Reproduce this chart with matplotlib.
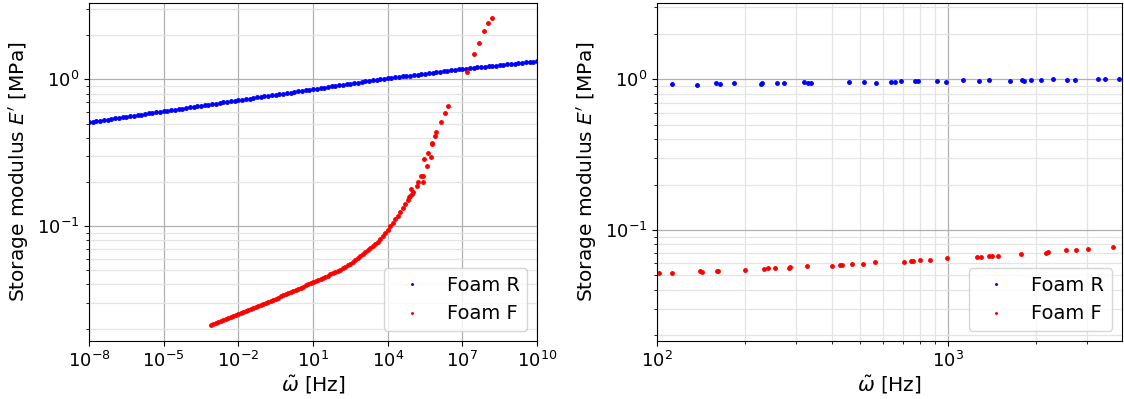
import matplotlib
matplotlib.use('Agg')
import matplotlib.pyplot as plt
from matplotlib.ticker import NullLocator, NullFormatter
import numpy as np

# ---- left panel: master curves, log10 of reduced frequency ----
foamR_logw = [-8.00, -7.85, -7.70, -7.55, -7.40, -7.25, -7.10, -6.95, -6.80, -6.65,
              -6.50, -6.35, -6.20, -6.05, -5.90, -5.75, -5.60, -5.45, -5.30, -5.15,
              -5.00, -4.85, -4.70, -4.55, -4.40, -4.25, -4.10, -3.95, -3.80, -3.65,
              -3.50, -3.35, -3.20, -3.05, -2.90, -2.75, -2.60, -2.45, -2.30, -2.15,
              -2.00, -1.85, -1.70, -1.55, -1.40, -1.25, -1.10, -0.95, -0.80, -0.65,
              -0.50, -0.35, -0.20, -0.05, 0.10, 0.25, 0.40, 0.55, 0.70, 0.85,
              1.00, 1.15, 1.30, 1.45, 1.60, 1.75, 1.90, 2.05, 2.20, 2.35,
              2.50, 2.65, 2.80, 2.95, 3.10, 3.25, 3.40, 3.55, 3.70, 3.85,
              4.00, 4.15, 4.30, 4.45, 4.60, 4.75, 4.90, 5.05, 5.20, 5.35,
              5.50, 5.65, 5.80, 5.95, 6.10, 6.25, 6.40, 6.55, 6.70, 6.85,
              7.00, 7.15, 7.30, 7.45, 7.60, 7.75, 7.90, 8.05, 8.20, 8.35,
              8.50, 8.65, 8.80, 8.95, 9.10, 9.25, 9.40, 9.55, 9.70, 9.85, 10.00]
foamR_E = [0.5098, 0.5142, 0.5187, 0.5232, 0.5278, 0.5324, 0.5370, 0.5417, 0.5464, 0.5512,
           0.5560, 0.5608, 0.5657, 0.5706, 0.5756, 0.5806, 0.5857, 0.5908, 0.5959, 0.6011,
           0.6063, 0.6116, 0.6169, 0.6223, 0.6277, 0.6332, 0.6387, 0.6443, 0.6499, 0.6555,
           0.6612, 0.6670, 0.6728, 0.6787, 0.6846, 0.6905, 0.6966, 0.7026, 0.7087, 0.7149,
           0.7211, 0.7274, 0.7337, 0.7401, 0.7466, 0.7531, 0.7596, 0.7662, 0.7729, 0.7796,
           0.7864, 0.7933, 0.8002, 0.8071, 0.8142, 0.8213, 0.8284, 0.8356, 0.8429, 0.8502,
           0.8576, 0.8651, 0.8726, 0.8802, 0.8879, 0.8956, 0.9034, 0.9113, 0.9192, 0.9272,
           0.9353, 0.9434, 0.9516, 0.9599, 0.9683, 0.9767, 0.9852, 0.9938, 1.0018, 1.0092,
           1.0167, 1.0242, 1.0318, 1.0395, 1.0472, 1.0550, 1.0628, 1.0707, 1.0786, 1.0866,
           1.0947, 1.1028, 1.1110, 1.1192, 1.1275, 1.1359, 1.1443, 1.1528, 1.1613, 1.1699,
           1.1786, 1.1857, 1.1929, 1.2001, 1.2074, 1.2147, 1.2221, 1.2295, 1.2369, 1.2444,
           1.2520, 1.2596, 1.2672, 1.2749, 1.2826, 1.2904, 1.2982, 1.3061, 1.3140, 1.3220, 1.3300]

foamF_logw = [-3.10, -3.00, -2.90, -2.80, -2.70, -2.60, -2.50, -2.40, -2.30, -2.20,
              -2.10, -2.00, -1.90, -1.80, -1.70, -1.60, -1.50, -1.40, -1.30, -1.20,
              -1.10, -1.00, -0.90, -0.80, -0.70, -0.60, -0.50, -0.40, -0.30, -0.20,
              -0.10, 0.00, 0.10, 0.20, 0.30, 0.40, 0.50, 0.60, 0.70, 0.80,
              0.90, 1.00, 1.10, 1.20, 1.30, 1.40, 1.50, 1.60, 1.70, 1.80,
              1.90, 2.00, 2.10, 2.20, 2.30, 2.40, 2.50, 2.60, 2.70, 2.80,
              2.90, 3.00, 3.10, 3.20, 3.30, 3.40, 3.50, 3.60, 3.70, 3.80,
              3.90, 4.00, 4.10, 4.20, 4.30, 4.40, 4.50, 4.60, 4.70, 4.80,
              4.85, 4.90, 4.96, 5.03, 4.92, 5.16, 5.23, 5.40, 5.34, 5.43,
              5.59, 5.47, 5.72, 5.60, 5.76, 5.79, 5.92, 5.94, 6.16, 6.30,
              6.43, 7.19, 7.48, 7.66, 7.87, 8.03, 8.20]
foamF_E = [0.02123, 0.02158, 0.02188, 0.02223, 0.02254, 0.02291, 0.02323, 0.02360, 0.02393, 0.02432,
           0.02466, 0.02506, 0.02547, 0.02588, 0.02630, 0.02667, 0.02710, 0.02754, 0.02799, 0.02844,
           0.02884, 0.02931, 0.02982, 0.03034, 0.03087, 0.03141, 0.03196, 0.03251, 0.03308, 0.03365,
           0.03424, 0.03483, 0.03544, 0.03606, 0.03669, 0.03733, 0.03798, 0.03864, 0.03932, 0.03999,
           0.04069, 0.04140, 0.04212, 0.04285, 0.04360, 0.04436, 0.04514, 0.04592, 0.04672, 0.04753,
           0.04836, 0.04920, 0.05035, 0.05152, 0.05272, 0.05395, 0.05521, 0.05694, 0.05875, 0.06061,
           0.06252, 0.06449, 0.06653, 0.06871, 0.07096, 0.07328, 0.07568, 0.07816, 0.08185, 0.08570,
           0.08974, 0.09397, 0.09931, 0.1050, 0.1109, 0.1172, 0.1247, 0.1327, 0.1413, 0.1503,
           0.157, 0.161, 0.166, 0.170, 0.180, 0.189, 0.199, 0.199, 0.218, 0.221,
           0.256, 0.287, 0.295, 0.316, 0.364, 0.370, 0.414, 0.436, 0.510, 0.587,
           0.662, 1.116, 1.489, 1.778, 2.130, 2.420, 2.640]

# ---- right panel: measured data ----
R_freq = [112.3, 137.5, 159.5, 164.7, 184.4, 227.2, 229.5, 258.4, 273.8, 320.0,
          329.5, 339.0, 456.8, 515.8, 565.8, 638.6, 657.6, 691.1, 772.0, 786.8,
          916.7, 986.7, 1126, 1281, 1387, 1629, 1800, 1829, 1924, 2083,
          2290, 2570, 2738, 3278, 3464, 3861]
R_E = [0.929, 0.920, 0.944, 0.929, 0.944, 0.929, 0.938, 0.944, 0.944, 0.958,
       0.944, 0.944, 0.963, 0.958, 0.944, 0.953, 0.953, 0.967, 0.967, 0.967,
       0.967, 0.953, 0.982, 0.967, 0.982, 0.967, 0.982, 0.967, 0.982, 0.982,
       0.997, 0.982, 0.982, 0.997, 0.997, 0.997]

F_freq = [101.8, 112.6, 140.5, 142.4, 160.4, 162.4, 200.6, 233.8, 240.2, 253.8,
          284.1, 286.4, 327.7, 399.4, 425.6, 431.3, 466.9, 509.3, 562.6, 706.2,
          744.6, 760.1, 801.5, 867.3, 994.5, 1261, 1301, 1380, 1416, 1489,
          1778, 2172, 2212, 2544, 2747, 3028, 3698]
F_E = [0.0513, 0.0513, 0.0529, 0.0524, 0.0529, 0.0535, 0.0542, 0.0551, 0.0556, 0.0556,
       0.0562, 0.0565, 0.0574, 0.0579, 0.0588, 0.0588, 0.0597, 0.0597, 0.0607, 0.0613,
       0.0619, 0.0619, 0.0628, 0.0628, 0.0648, 0.0658, 0.0664, 0.0675, 0.0675, 0.0675,
       0.0692, 0.0703, 0.0710, 0.0732, 0.0732, 0.0742, 0.0766]

xticks_left = [1e-8, 1e-5, 1e-2, 1e1, 1e4, 1e7, 1e10]

fig = plt.figure(figsize=(11.24, 3.99), dpi=100)
ax1 = fig.add_axes([0.0792, 0.1454, 0.3986, 0.847])
ax2 = fig.add_axes([0.5845, 0.1454, 0.4137, 0.847])

ms = 5
ax1.plot(np.power(10.0, foamR_logw), foamR_E, '.', color='b', ms=ms, label='Foam R')
ax1.plot(np.power(10.0, foamF_logw), foamF_E, '.', color='r', ms=ms, label='Foam F')
ax2.plot(R_freq, R_E, '.', color='b', ms=ms, label='Foam R')
ax2.plot(F_freq, F_E, '.', color='r', ms=ms, label='Foam F')

for ax in (ax1, ax2):
    ax.set_xscale('log')
    ax.set_yscale('log')
    ax.set_xlabel(r'$\tilde{\omega}$ [Hz]', fontsize=14.5, labelpad=2)
    ax.set_ylabel(r"Storage modulus $E'$ [MPa]", fontsize=14.5)
    ax.tick_params(axis='both', which='major', labelsize=13)
    ax.grid(True, which='major', color='#b0b0b0', linewidth=0.9)
    ax.grid(True, which='minor', color='#e4e4e4', linewidth=0.9)
    ax.set_axisbelow(True)
    ax.legend(loc='lower right', fontsize=14, markerscale=0.45)

ax1.set_xlim(1e-8, 1e10)
ax1.set_ylim(0.01644, 3.32)
ax1.set_xticks(xticks_left)
ax1.xaxis.set_minor_locator(NullLocator())
ax1.yaxis.set_minor_formatter(NullFormatter())

ax2.set_xlim(100, 3960)
ax2.set_ylim(0.01827, 3.21)
ax2.xaxis.set_minor_formatter(NullFormatter())
ax2.yaxis.set_minor_formatter(NullFormatter())

fig.savefig('out.png', dpi=100)
plt.close(fig)
